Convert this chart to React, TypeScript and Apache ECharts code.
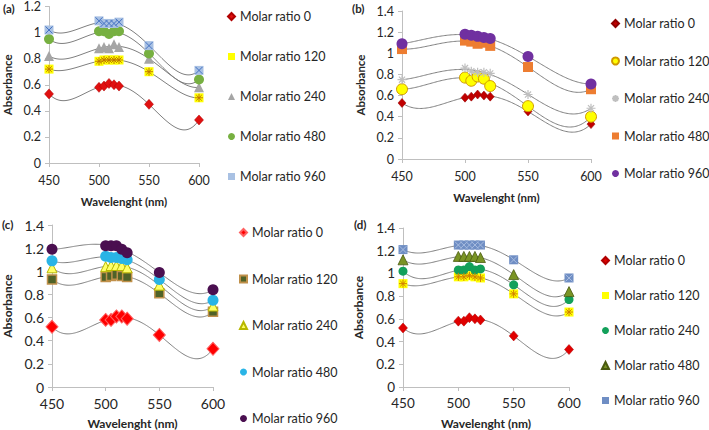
import React, { useEffect, useRef } from 'react';
import * as echarts from 'echarts';

// ---------- data ----------
const wavelengths = [450, 500, 505, 510, 515, 520, 550, 600];
const ratioNames = ['Molar ratio 0', 'Molar ratio 120', 'Molar ratio 240', 'Molar ratio 480', 'Molar ratio 960'];

// panel (a)
const a0 = [0.53, 0.58, 0.59, 0.61, 0.60, 0.59, 0.45, 0.33];
const a120 = [0.72, 0.78, 0.79, 0.79, 0.79, 0.79, 0.70, 0.50];
const a240 = [0.82, 0.88, 0.89, 0.88, 0.91, 0.89, 0.80, 0.58];
const a480 = [0.95, 1.01, 1.01, 0.99, 1.01, 1.01, 0.84, 0.64];
const a960 = [1.02, 1.09, 1.07, 1.07, 1.07, 1.08, 0.90, 0.71];
// panel (b)
const b0 = [0.53, 0.58, 0.59, 0.61, 0.60, 0.59, 0.45, 0.33];
const b120 = [0.66, 0.77, 0.74, 0.78, 0.76, 0.69, 0.50, 0.40];
const b240 = [0.75, 0.86, 0.83, 0.82, 0.82, 0.81, 0.61, 0.48];
const b480 = [1.04, 1.12, 1.11, 1.09, 1.10, 1.07, 0.87, 0.66];
const b960 = [1.09, 1.18, 1.17, 1.16, 1.15, 1.14, 0.97, 0.71];
// panel (c)
const c0 = [0.52, 0.58, 0.58, 0.61, 0.61, 0.59, 0.45, 0.33];
const c120 = [0.93, 0.95, 0.96, 0.97, 0.96, 0.95, 0.81, 0.65];
const c240 = [1.03, 1.04, 1.05, 1.05, 1.05, 1.03, 0.88, 0.70];
const c480 = [1.09, 1.13, 1.12, 1.12, 1.11, 1.10, 0.93, 0.75];
const c960 = [1.19, 1.22, 1.22, 1.22, 1.19, 1.16, 0.99, 0.84];
// panel (d)
const d0 = [0.52, 0.58, 0.58, 0.61, 0.60, 0.59, 0.45, 0.33];
const d120 = [0.91, 0.97, 0.97, 0.98, 0.97, 0.96, 0.82, 0.66];
const d240 = [1.02, 1.03, 1.03, 1.06, 1.03, 1.04, 0.90, 0.77];
const d480 = [1.12, 1.15, 1.15, 1.15, 1.15, 1.14, 0.99, 0.84];
const d960 = [1.21, 1.25, 1.25, 1.25, 1.25, 1.25, 1.12, 0.96];

const xMin = 450;
const xMax = 600;
const xStep = 50;
const yStep = 0.2;

// ---------- styles ----------
const FONT = 'Lato, "Open Sans", sans-serif';
const TXT = '#262626';
const AXIS = '#bfbfbf';
const ASTER = 'path://M5,0L5,10M0,5L10,5M1.6,1.6L8.4,8.4M8.4,1.6L1.6,8.4';
const XMARK = 'path://M0,0L10,10M10,0L0,10';

type Mk = { symbol: string; size: number | number[]; color: string; border?: string; bw?: number; over?: { symbol: string; color: string; size: number } };

const panels = [
  {
    key: 'a', label: '(a)', labelPos: [3, 2], yMax: 1.2,
    grid: { left: 48, top: 5, width: 151, height: 158 },
    values: [a0, a120, a240, a480, a960],
    legend: { left: 227, top: 10, gap: 27 },
    tick: 12.5, xGap: 32, yGap: 36, lm: 11, nameSize: 11.5,
    marks: [
      { symbol: 'diamond', size: [9, 10], color: '#e01010', border: '#b00000', bw: 0.5 },
      { symbol: 'rect', size: 9, color: '#ffff00', over: { symbol: ASTER, color: '#c07800', size: 8 } },
      { symbol: 'triangle', size: 10, color: '#a5a5a5' },
      { symbol: 'circle', size: 10, color: '#77b041' },
      { symbol: 'rect', size: 9, color: '#a9c1e3', over: { symbol: XMARK, color: '#4472c4', size: 7 } },
    ] as Mk[],
  },
  {
    key: 'b', label: '(b)', labelPos: [352, 2], yMax: 1.4,
    grid: { left: 402, top: 11, width: 189, height: 148 },
    values: [b0, b120, b240, b480, b960],
    legend: { left: 611, top: 17, gap: 24.5 },
    tick: 12.5, xGap: 32, yGap: 36, lm: 11, nameSize: 11.5,
    marks: [
      { symbol: 'diamond', size: [8, 9], color: '#c00000', border: '#900000', bw: 0.5 },
      { symbol: 'circle', size: 11, color: '#ffff00', border: '#d09a00', bw: 1 },
      { symbol: ASTER, size: 9, color: 'rgba(0,0,0,0)', border: '#bfbfbf', bw: 1.2 },
      { symbol: 'rect', size: 10, color: '#ed7d31' },
      { symbol: 'circle', size: 11, color: '#7030a0' },
    ] as Mk[],
  },
  {
    key: 'c', label: '(c)', labelPos: [2, 218], yMax: 1.4,
    grid: { left: 49, top: 225, width: 164, height: 162 },
    values: [c0, c120, c240, c480, c960],
    legend: { left: 239, top: 226, gap: 33.5 },
    tick: 14, xGap: 30, yGap: 39, lm: 9, nameSize: 12,
    marks: [
      { symbol: 'diamond', size: [12, 13], color: '#ff0000', border: '#ff6060', bw: 1 },
      { symbol: 'rect', size: 9, color: '#4f6228', border: '#c0904a', bw: 1.5 },
      { symbol: 'triangle', size: 10, color: '#ffff66', border: '#b8b800', bw: 1 },
      { symbol: 'circle', size: 11, color: '#29b4e6' },
      { symbol: 'circle', size: 11, color: '#4a0f50' },
    ] as Mk[],
  },
  {
    key: 'd', label: '(d)', labelPos: [354, 218], yMax: 1.4,
    grid: { left: 403, top: 228, width: 166, height: 159 },
    values: [d0, d120, d240, d480, d960],
    legend: { left: 601, top: 254, gap: 22 },
    tick: 13.5, xGap: 30, yGap: 39, lm: 9, nameSize: 12,
    marks: [
      { symbol: 'diamond', size: [9, 10], color: '#e00000', border: '#b00000', bw: 0.5 },
      { symbol: 'rect', size: 9, color: '#ffff00', over: { symbol: ASTER, color: '#d08000', size: 8 } },
      { symbol: 'circle', size: 9, color: '#13a05a' },
      { symbol: 'triangle', size: 10, color: '#7a9425', border: '#4a5a10', bw: 0.8 },
      { symbol: 'rect', size: 9, color: '#6f8ec4', over: { symbol: XMARK, color: '#a9bde0', size: 7 } },
    ] as Mk[],
  },
];

// least-squares polynomial trendline (like a spreadsheet "Poly." trendline)
const TREND_ORDER = 4;
function polyfit(xs: number[], ys: number[], deg: number): number[] {
  const n = deg + 1;
  const A: number[][] = Array.from({ length: n }, () => new Array(n + 1).fill(0));
  xs.forEach((x, k) => {
    const t = (x - 525) / 75;
    for (let i = 0; i < n; i++) {
      for (let j = 0; j < n; j++) A[i][j] += Math.pow(t, i + j);
      A[i][n] += ys[k] * Math.pow(t, i);
    }
  });
  for (let c = 0; c < n; c++) {
    let p = c;
    for (let r = c + 1; r < n; r++) if (Math.abs(A[r][c]) > Math.abs(A[p][c])) p = r;
    [A[c], A[p]] = [A[p], A[c]];
    for (let r = 0; r < n; r++) {
      if (r === c) continue;
      const f = A[r][c] / A[c][c];
      for (let k = c; k <= n; k++) A[r][k] -= f * A[c][k];
    }
  }
  return A.map((row, i) => row[n] / row[i]);
}
function polyval(c: number[], x: number) {
  const t = (x - 525) / 75;
  return c.reduce((s, v, i) => s + v * Math.pow(t, i), 0);
}

function buildOption() {
  const grid: any[] = [];
  const xAxis: any[] = [];
  const yAxis: any[] = [];
  const legend: any[] = [];
  const series: any[] = [];
  const graphic: any[] = [];

  panels.forEach((p, gi) => {
    grid.push({ ...p.grid });
    xAxis.push({
      gridIndex: gi, type: 'value', min: xMin, max: xMax, interval: xStep,
      axisLine: { show: true, lineStyle: { color: AXIS } },
      axisTick: { show: true, length: 4, lineStyle: { color: AXIS } },
      splitLine: { show: false },
      axisLabel: { color: TXT, fontSize: p.tick, fontFamily: FONT, margin: p.lm },
      name: 'Wavelenght (nm)', nameLocation: 'middle', nameGap: p.xGap,
      nameTextStyle: { color: TXT, fontSize: p.nameSize, fontWeight: 'bold', fontFamily: FONT },
    });
    yAxis.push({
      gridIndex: gi, type: 'value', min: 0, max: p.yMax, interval: yStep,
      axisLine: { show: true, lineStyle: { color: AXIS } },
      axisTick: { show: true, length: 4, lineStyle: { color: AXIS } },
      splitLine: { show: false },
      axisLabel: { color: TXT, fontSize: p.tick, fontFamily: FONT, margin: 8 },
      name: 'Absorbance', nameLocation: 'middle', nameGap: p.yGap, nameRotate: 90,
      nameTextStyle: { color: TXT, fontSize: p.nameSize, fontWeight: 'bold', fontFamily: FONT },
    });
    const names = ratioNames.map((r) => `${p.key}|${r}`);
    legend.push({
      orient: 'vertical', left: p.legend.left, top: p.legend.top, itemGap: p.legend.gap,
      itemWidth: 7, itemHeight: 7, selectedMode: false, padding: 0,
      textStyle: { color: TXT, fontSize: 12.5, fontFamily: FONT },
      formatter: (n: string) => n.split('|')[1],
      data: names,
    });
    graphic.push({
      type: 'text', left: p.labelPos[0], top: p.labelPos[1],
      style: { text: p.label, fontSize: 11.5, fontWeight: 'bold', fontFamily: FONT, fill: TXT },
    });

    p.values.forEach((vals, si) => {
      const pts = wavelengths.map((x, i) => [x, vals[i]]);
      const coef = polyfit(wavelengths, vals, TREND_ORDER);
      series.push({
        type: 'custom', xAxisIndex: gi, yAxisIndex: gi, z: 1, silent: true,
        data: pts,
        renderItem: (params: any, api: any) => {
          if (params.dataIndex !== 0) return null;
          const line: number[][] = [];
          const x0 = wavelengths[0];
          const x1 = wavelengths[wavelengths.length - 1];
          for (let x = x0; x <= x1; x += 1) line.push(api.coord([x, polyval(coef, x)]));
          return {
            type: 'polyline', shape: { points: line, smooth: 0 },
            style: { stroke: '#7f7f7f', lineWidth: 1, fill: null },
          };
        },
      });
      const m = p.marks[si];
      series.push({
        type: 'scatter', name: names[si], xAxisIndex: gi, yAxisIndex: gi, z: 3,
        data: pts, symbol: m.symbol, symbolSize: m.size,
        itemStyle: { color: m.color, borderColor: m.border || m.color, borderWidth: m.bw || 0, opacity: 1 },
      });
      if (m.over) {
        series.push({
          type: 'scatter', name: names[si], xAxisIndex: gi, yAxisIndex: gi, z: 4,
          data: pts, symbol: m.over.symbol, symbolSize: m.over.size,
          itemStyle: { color: 'rgba(0,0,0,0)', borderColor: m.over.color, borderWidth: 1, opacity: 1 },
        });
      }
    });
  });

  return {
    animation: false,
    backgroundColor: '#ffffff',
    textStyle: { fontFamily: FONT },
    grid, xAxis, yAxis, legend, series, graphic,
  };
}

export default function App() {
  const ref = useRef<HTMLDivElement>(null);
  useEffect(() => {
    if (!ref.current) return;
    const chart = echarts.init(ref.current, undefined, { renderer: 'svg' });
    chart.setOption(buildOption() as any);
    return () => chart.dispose();
  }, []);
  return <div ref={ref} style={{ position: 'fixed', left: 0, top: 0, width: 709, height: 430 }} />;
}
